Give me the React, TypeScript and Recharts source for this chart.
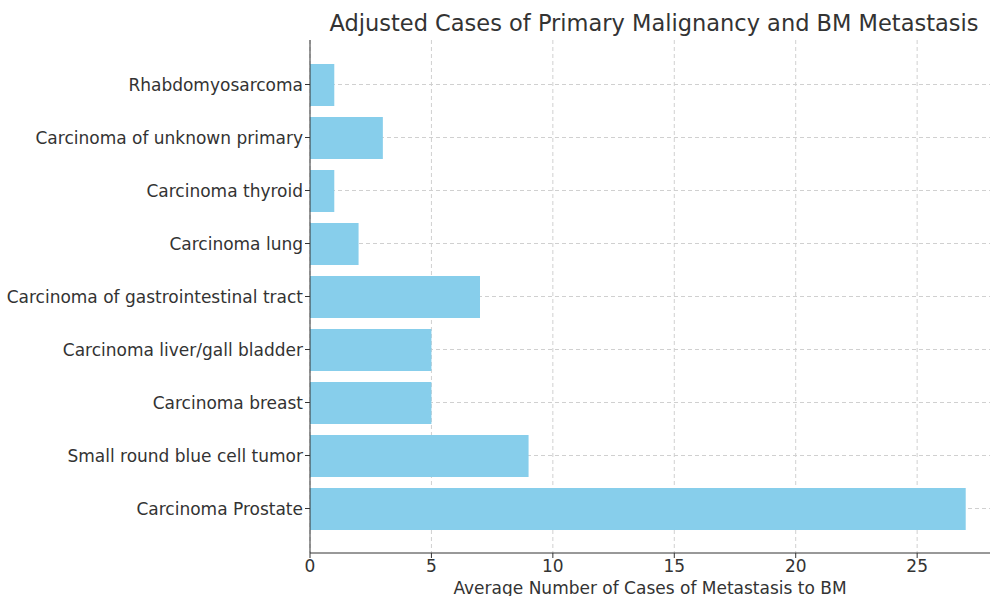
import React from 'react';
import { BarChart, Bar, XAxis, YAxis, CartesianGrid } from 'recharts';

const categories = [
  'Rhabdomyosarcoma',
  'Carcinoma of unknown primary',
  'Carcinoma thyroid',
  'Carcinoma lung',
  'Carcinoma of gastrointestinal tract',
  'Carcinoma liver/gall bladder',
  'Carcinoma breast',
  'Small round blue cell tumor',
  'Carcinoma Prostate',
];
const cases = [1, 3, 1, 2, 7, 5, 5, 9, 27];
const xTicks = [0, 5, 10, 15, 20, 25];

const data = categories.map((name, i) => ({ name, cases: cases[i] }));

const font = '"DejaVu Sans", sans-serif';
const ink = '#333';

export default function App() {
  return (
    <div style={{ position: 'absolute', left: 0, top: 0, width: 990, height: 596, background: '#fff', fontFamily: font }}>
      <div style={{ position: 'absolute', left: 310, width: 688, top: 10, textAlign: 'center', fontSize: 22.5, color: ink, whiteSpace: 'nowrap' }}>
        Adjusted Cases of Primary Malignancy and BM Metastasis
      </div>
      <BarChart
        width={990}
        height={596}
        data={data}
        layout="vertical"
        margin={{ top: 40, right: 0, bottom: 0, left: 0 }}
      >
        <XAxis
          type="number"
          dataKey="cases"
          domain={[0, 28]}
          ticks={xTicks}
          allowDataOverflow
          height={43}
          tickSize={5}
          tick={{ fontSize: 17, fill: ink, fontFamily: font }}
          stroke={ink}
          label={{ value: 'Average Number of Cases of Metastasis to BM', position: 'insideBottom', offset: 2, fontSize: 17, fill: ink, fontFamily: font }}
        />
        <YAxis
          type="category"
          dataKey="name"
          width={310}
          tickSize={5}
          interval={0}
          padding={{ top: 18, bottom: 18 }}
          tick={{ fontSize: 17, fill: ink, fontFamily: font }}
          stroke={ink}
        />
        <Bar dataKey="cases" fill="#87CEEB" barSize={42} isAnimationActive={false} />
        <CartesianGrid stroke="#d0d0d0" strokeDasharray="4 3" syncWithTicks />
      </BarChart>
    </div>
  );
}
